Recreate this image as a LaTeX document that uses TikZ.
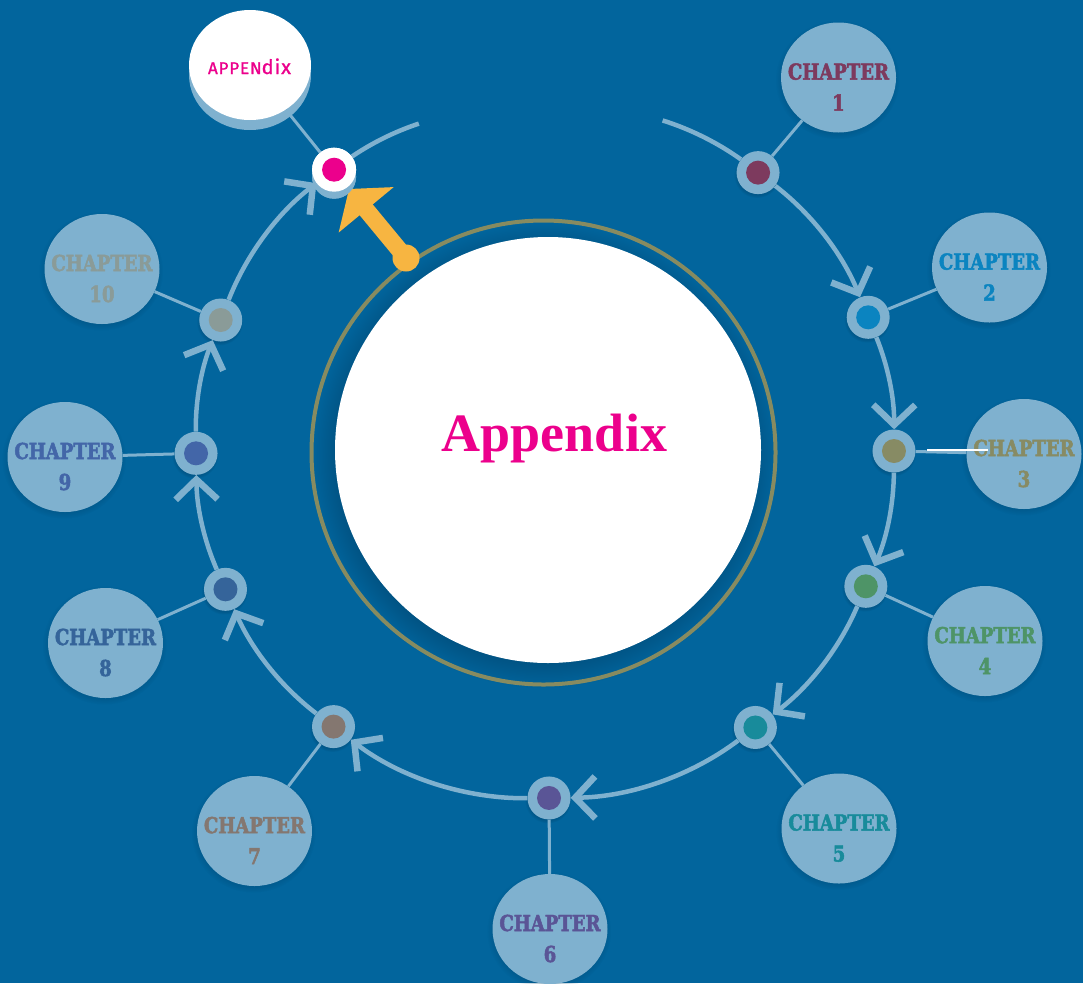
\documentclass[tikz,border=0pt]{standalone}
\usepackage{fontspec}
\newfontfamily\chapfont[FakeStretch=0.82, FakeBold=2.2]{DejaVu Serif}
\newfontfamily\titlefont{Liberation Serif}
\newfontfamily\tagfont[LetterSpace=5, FakeBold=1]{Fira Sans}
\usetikzlibrary{shapes.geometric,arrows.meta,shadows,calc}

\definecolor{bg}{HTML}{02659D}
\definecolor{pale}{HTML}{7FB1CF}
\definecolor{olivering}{HTML}{878B60}
\definecolor{amber}{HTML}{F7B541}
\definecolor{magenta}{HTML}{EC008C}
\definecolor{cA}{HTML}{7D3A5E}
\definecolor{cB}{HTML}{0B84C0}
\definecolor{cC}{HTML}{878B64}
\definecolor{cD}{HTML}{4E9467}
\definecolor{cE}{HTML}{188B9B}
\definecolor{cF}{HTML}{5A5596}
\definecolor{cG}{HTML}{847770}
\definecolor{cH}{HTML}{35649A}
\definecolor{cI}{HTML}{4366A8}
\definecolor{cJ}{HTML}{8A9B98}
\definecolor{deep}{HTML}{003F66}

\begin{document}
\begin{tikzpicture}[x=1pt,y=-1pt,
  softshadow/.style={circular drop shadow={fill=deep, shadow scale=1.08, shadow xshift=-1pt, shadow yshift=-2pt, opacity=0.35}},
  dot/.style={circle, fill=pale, minimum size=43pt, inner sep=0pt, softshadow},
  core/.style={circle, minimum size=24pt, inner sep=0pt},
  chap/.style={ellipse, fill=pale, minimum width=115pt, minimum height=110pt, inner sep=0pt, softshadow},
  chaptext/.style={align=center, inner sep=0pt, font=\chapfont\bfseries\fontsize{22}{31}\selectfont},
  track/.style={draw=pale, line width=4.5pt},
  flow/.style={-{Straight Barb[length=20pt, width=42pt, line width=6.5pt]}},
  spoke/.style={draw=pale, line width=3pt},
  arcbend/.style={bend left=#1, looseness=0.85}
]
\fill[bg] (0,0) rectangle (1083,983);
\useasboundingbox (0,0) rectangle (1083,983);

% central disc and its ring
\node[circle, fill=white, minimum size=426pt, inner sep=0pt,
      circular drop shadow={fill=deep, shadow scale=1.09, shadow xshift=-4pt, shadow yshift=-5pt, opacity=0.6}]
      (hub) at (548,450) {};
\node[circle, draw=olivering, line width=4pt, minimum size=464pt, inner sep=0pt] (ring) at (543.5,452.5) {};
\node[anchor=base, text=magenta, inner sep=0pt] (title) at (554.5,451)
      {\titlefont\bfseries\fontsize{54}{60}\selectfont Appendix};

% stations along the track
\coordinate (C) at (545,449);
\foreach \n/\a/\c in {1/-52.37/cA, 2/-22.17/cB, 3/0.33/cC, 4/23.17/cD, 5/52.93/cE,
                      6/89.34/cF, 7/127.3/cG, 8/156.29/cH, 9/179.29/cI, 10/201.69/cJ}{
  \node[dot] (d\n) at ($(C)+(\a:349)$) {};
  \node[core, fill=\c] (k\n) at (d\n) {};
}

% appendix station
\coordinate (appc) at ($(C)+(232.94:350)$);
\node[circle, fill=pale, minimum size=44pt, inner sep=0pt] (dAs) at ([yshift=-7pt]appc) {};
\node[circle, fill=white, minimum size=44pt, inner sep=0pt] (dA) at (appc) {};

% chapter bubbles
\foreach \n/\x/\y/\c in {1/838.5/77.5/cA, 2/989.5/267.5/cB, 3/1024/454/cC, 4/985/641/cD,
                          5/839/828.5/cE, 6/550/929/cF, 7/254.5/831/cG, 8/105.5/643/cH,
                          9/65/457/cI, 10/102/269/cJ}{
  \node[chap] (ch\n) at (\x,\y) {};
  \node[chaptext, text=\c] (lbl\n) at (\x,\y+9.5) {CHAPTER\\\n};
}

% appendix bubble
\node[ellipse, fill=pale, minimum width=122pt, minimum height=110pt, inner sep=0pt] (bubs) at (250,75) {};
\node[ellipse, fill=white, minimum width=122pt, minimum height=110pt, inner sep=0pt] (bub) at (250,65) {};
\node[anchor=base, text=magenta, inner sep=0pt] (tag) at (249.5,74)
      {\tagfont{\fontsize{17}{20}\selectfont APPEN}{\fontsize{20}{20}\selectfont dix}};

% track segments
\coordinate (arcS) at ($(C)+(-70.3:349)$);
\coordinate (arcE) at ($(C)+(248.8:349)$);
\draw[track] (arcS) to[arcbend=9] (d1);
\draw[track, flow] (d1) to[arcbend=15.1] (d2);
\draw[track, flow] (d2) to[arcbend=11.25] (d3);
\draw[track, flow] (d3) to[arcbend=11.4] (d4);
\draw[track, flow] (d4) to[arcbend=14.9] (d5);
\draw[track, flow] (d5) to[arcbend=18.2] (d6);
\draw[track, flow] (d6) to[arcbend=19] (d7);
\draw[track, flow] (d7) to[arcbend=14.5] (d8);
\draw[track, flow] (d8) to[arcbend=11.5] (d9);
\draw[track, flow] (d9) to[arcbend=11.2] (d10);
\draw[track, flow] (d10) to[arcbend=15.6] (dA);
\draw[track] (dA) to[arcbend=7.9] (arcE);

% spokes to the bubbles
\foreach \n in {1,...,10}{
  \draw[spoke] (d\n) -- (ch\n);
}
\draw[spoke] (dA) -- (bub);

% white streak across the third spoke
\coordinate (w1) at (927,450);
\coordinate (w2) at (988,450);
\draw[white, line width=2.5pt] (w1) -- (w2);

% pointer towards the appendix station
\coordinate (ys) at (406,258);
\coordinate (yt) at (349,189);
\fill[amber] (ys) circle[radius=13.5pt];
\draw[amber, line width=17pt, -{Triangle[length=27pt, width=70pt]}] (ys) -- (yt);

% appendix station drawn on top
\node[circle, fill=pale, minimum size=44pt, inner sep=0pt] at (dAs) {};
\node[circle, fill=white, minimum size=44pt, inner sep=0pt] at (dA) {};
\node[core, fill=magenta] (kA) at (dA) {};
\end{tikzpicture}
\end{document}
